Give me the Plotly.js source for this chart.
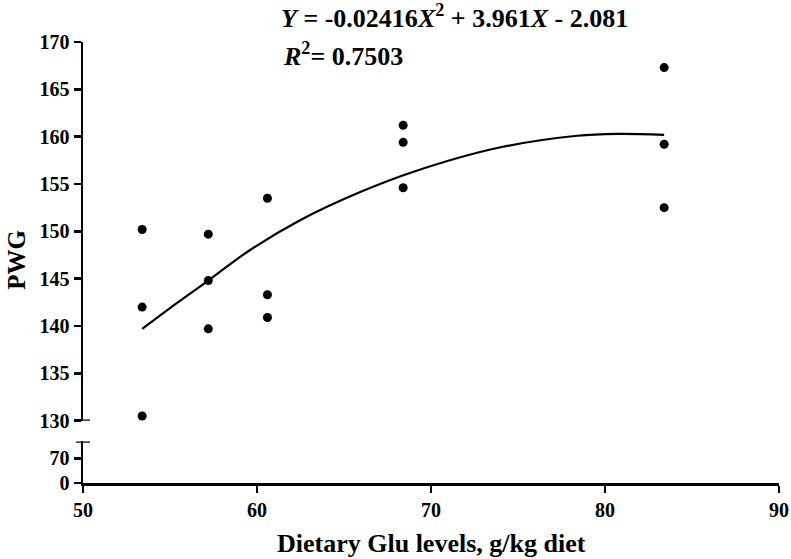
<!DOCTYPE html>
<html>
<head>
<meta charset="utf-8">
<script src="https://cdn.plot.ly/plotly-3.0.1.min.js"></script>
<style>html,body{margin:0;padding:0;background:#fff;}#chart{width:791px;height:559px;}</style>
</head>
<body>
<div id="chart"></div>
<script>
// Observed data (g/kg diet vs PWG), 3 replicates per level
var gluLevels = [53.4, 53.4, 53.4, 57.2, 57.2, 57.2, 60.6, 60.6, 60.6, 68.4, 68.4, 68.4, 83.4, 83.4, 83.4];
var pwgValues = [150.2, 142.0, 130.5, 149.7, 144.8, 139.7, 153.5, 143.3, 140.9, 161.2, 159.4, 154.6, 167.3, 159.2, 152.5];

// Fitted curve
var curveX = [53.4, 55.0, 57.2, 59.5, 62.5, 66.0, 69.0, 73.8, 78.4, 80.7, 83.4];
var curveY = [139.7, 141.9, 144.8, 147.9, 151.2, 154.2, 156.3, 158.8, 160.1, 160.3, 160.2];

var xTicks = [50, 60, 70, 80, 90];
var upperTicks = [130, 135, 140, 145, 150, 155, 160, 165, 170];
var lowerTicks = [0, 70];

var eqText = '<b><i>Y</i> = -0.02416<i>X</i><sup>2</sup> + 3.961<i>X</i> - 2.081</b>';
var r2Text = '<b><i>R</i><sup>2</sup>= 0.7503</b>';
var xTitle = '<b>Dietary Glu levels, g/kg diet</b>';
var yTitle = '<b>PWG</b>';

var FONT = 'Liberation Serif, Times New Roman, serif';

var traces = [
  {x: curveX, y: curveY, xaxis: 'x', yaxis: 'y', mode: 'lines', type: 'scatter',
   line: {color: '#000', width: 2.2, shape: 'spline'}, hoverinfo: 'skip', showlegend: false},
  {x: gluLevels, y: pwgValues, xaxis: 'x', yaxis: 'y', mode: 'markers', type: 'scatter',
   marker: {color: '#000', size: 9}, cliponaxis: false, showlegend: false},
  {x: [], y: [], xaxis: 'x', yaxis: 'y2', mode: 'markers', type: 'scatter', showlegend: false}
];

var axisCommon = {
  showgrid: false, zeroline: false, showline: true, linecolor: '#000', linewidth: 2.5,
  ticks: 'outside', ticklen: 7, tickwidth: 2.5, tickcolor: '#000',
  tickfont: {family: FONT, size: 20, color: '#000', weight: 'bold'}
};

var layout = {
  width: 791, height: 559,
  margin: {l: 83, r: 12, t: 42, b: 76},
  paper_bgcolor: '#fff', plot_bgcolor: '#fff',
  font: {family: FONT, color: '#000'},
  showlegend: false,
  xaxis: Object.assign({}, axisCommon, {
    range: [50, 90], tickvals: xTicks, ticktext: xTicks.map(function(v){return '<b>'+v+'</b>';}),
    anchor: 'y2', domain: [0, 1]
  }),
  yaxis: Object.assign({}, axisCommon, {
    range: [130, 170], tickvals: upperTicks, ticktext: upperTicks.map(function(v){return '<b>'+v+'</b>';}),
    domain: [0.1413, 1], anchor: 'x'
  }),
  yaxis2: Object.assign({}, axisCommon, {
    range: [0, 118], tickvals: lowerTicks, ticktext: lowerTicks.map(function(v){return '<b>'+v+'</b>';}),
    domain: [0, 0.0943], anchor: 'x'
  }),
  shapes: [
    {type: 'line', xref: 'paper', xsizemode: 'pixel', xanchor: 0, x0: -7, x1: 7,
     yref: 'y', y0: 130, y1: 130, line: {color: '#000', width: 2.5}},
    {type: 'line', xref: 'paper', xsizemode: 'pixel', xanchor: 0, x0: -7, x1: 7,
     yref: 'y2', y0: 118, y1: 118, line: {color: '#000', width: 2.5}}
  ],
  annotations: [
    {text: eqText, xref: 'paper', yref: 'paper', x: 0.282, y: 1.058, xanchor: 'left', yanchor: 'middle',
     showarrow: false, font: {family: FONT, size: 26, color: '#000'}},
    {text: r2Text, xref: 'paper', yref: 'paper', x: 0.284, y: 0.972, xanchor: 'left', yanchor: 'middle',
     showarrow: false, font: {family: FONT, size: 26, color: '#000'}},
    {text: xTitle, xref: 'paper', yref: 'paper', x: 0.5, y: -0.138, xanchor: 'center', yanchor: 'middle',
     showarrow: false, font: {family: FONT, size: 26, color: '#000'}},
    {text: yTitle, xref: 'paper', yref: 'paper', x: -0.0955, y: 0.505, xanchor: 'center', yanchor: 'middle',
     textangle: -90, showarrow: false, font: {family: FONT, size: 25, color: '#000'}}
  ]
};

Plotly.newPlot('chart', traces, layout, {displayModeBar: false, staticPlot: true});
</script>
</body>
</html>
